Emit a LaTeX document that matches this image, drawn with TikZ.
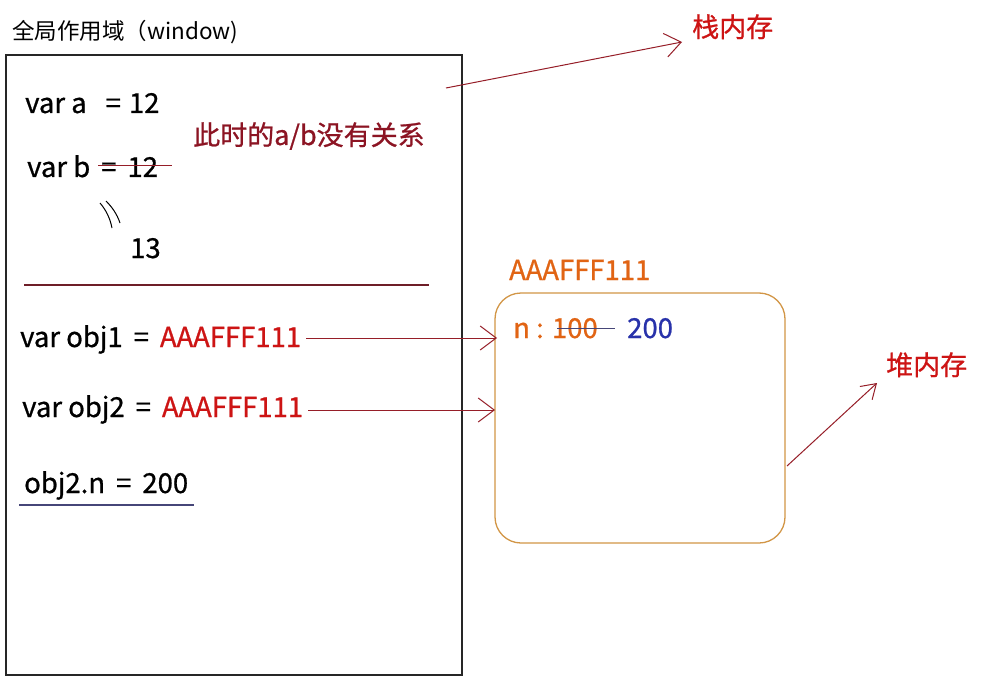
\documentclass[tikz,border=0pt]{standalone}
\usepackage{fontspec}
\setmainfont{Noto Sans CJK SC}
\newfontfamily\medf[FakeBold=0.8]{Noto Sans CJK SC}
\usetikzlibrary{arrows.meta}
\definecolor{lred}{RGB}{150,30,40}
\definecolor{tred}{RGB}{140,20,35}
\definecolor{vred}{RGB}{205,20,20}
\definecolor{ored}{RGB}{225,100,20}
\definecolor{obox}{RGB}{210,150,70}
\definecolor{nblue}{RGB}{40,50,170}
\definecolor{uline}{RGB}{70,70,120}
\definecolor{divl}{RGB}{110,30,40}
\newcommand{\eqs}{\hspace{11pt}=\hspace{11pt}}
\tikzset{
  txt/.style={inner sep=0pt, anchor=base west, font=\medf\fontsize{27.5}{30}\selectfont},
  cjk/.style={inner sep=0pt, anchor=base west, font=\medf\fontsize{27}{30}\selectfont},
  ptr/.style={draw=lred, line width=1pt, -{Straight Barb[length=16pt,width=24pt,line width=1pt]}},
}
\begin{document}
\begin{tikzpicture}[x=1pt,y=-1pt]
\useasboundingbox[fill=white] (0,0) rectangle (987,687);
% stack box
\node[txt, font=\fontsize{22.5}{26}\selectfont] (title) at (12,40) {全局作用域（window)};
\draw[line width=1.5pt, black!85] (6,55) rectangle (462,675);
\coordinate (stk) at (446,88);
\node[txt] (va) at (25,113) {var a\hspace{19pt}=\hspace{8pt}12};
\node[cjk, text=tred] (note) at (193,145) {此时的a/b没有关系};
\node[txt] (vb) at (27,177) {var b\eqs12};
\draw[lred, line width=1pt] (98,166) -- (172,166);
\draw[black, line width=1pt] (100,203) .. controls (106,210) and (110,218) .. (112,228);
\draw[black, line width=1pt] (106,201) .. controls (112,207) and (117,214) .. (120,223);
\node[txt] (v13) at (130,258) {13};
\draw[divl, line width=1.2pt] (24,285) -- (429,285);
\node[txt] (o1) at (20,347) {var obj1\eqs\textcolor{vred}{AAAFFF111}};
\node[txt] (o2) at (22,417) {var obj2\eqs\textcolor{vred}{AAAFFF111}};
\node[txt] (on) at (24,493) {obj2.n\eqs200};
\draw[uline, line width=1.5pt] (19,505) -- (194,505);
% heap
\node[txt, text=ored] (addr) at (509,280) {AAAFFF111};
\draw[obox, line width=1.3pt, rounded corners=26pt] (495,293) rectangle (785,543);
\coordinate (heapL1) at (497,338);
\coordinate (heapL2) at (495,410);
\node[txt, text=ored] (nlab) at (513,338) {n : 100};
\draw[uline, line width=1pt] (557,328) -- (615,328);
\node[txt, text=nblue] (n200) at (627,338) {200};
\coordinate (hp) at (787,466);
% labels
\node[cjk, text=vred] (stklab) at (692,37) {栈内存};
\node[cjk, text=vred] (heaplab) at (886,375) {堆内存};
\coordinate (stktip) at (682,42);
\coordinate (heaptip) at (877,383);
% arrows
\draw[ptr] ([xshift=5pt]o1.east |- heapL1) -- (heapL1);
\draw[ptr] ([xshift=5pt]o2.east |- heapL2) -- (heapL2);
\draw[ptr] (stk) -- (stktip);
\draw[lred, line width=1pt, -{Straight Barb[length=14pt,width=18pt,line width=1pt]}] (hp) -- (heaptip);
\end{tikzpicture}
\end{document}
